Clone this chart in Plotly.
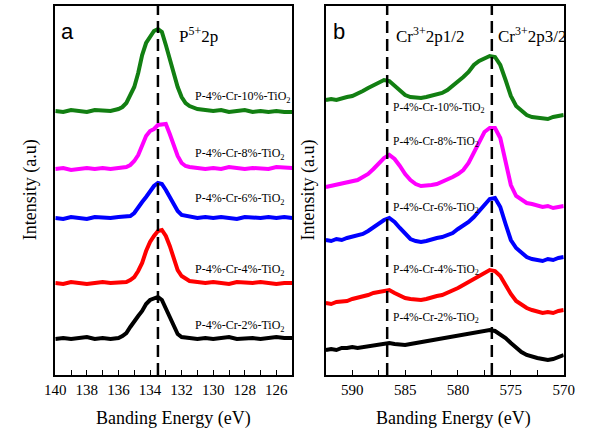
import plotly.graph_objects as go

# ---------------- Panel a: P 2p ----------------
energy_a = [140, 139.5, 139, 138.5, 138, 137.5, 137, 136.5, 136,
            135.75, 135.5, 135.25, 135, 134.75, 134.5, 134.25, 134, 133.75,
            133.5, 133.25, 133, 132.75, 132.5, 132.25, 132, 131.75, 131.5,
            131, 130.5, 130, 129.5, 129, 128.5, 128, 127.5, 127, 126.5, 126, 125.5, 125]

a_cr10 = [264, 263, 265, 264, 263, 265, 264, 264, 266,
          268, 272, 280, 288, 302, 320, 332, 339, 344, 346, 343, 330, 315, 302, 288, 278, 272, 269,
          266, 265, 264, 265, 263, 264, 265, 263, 264, 263, 264, 263, 263]
a_cr8 = [206, 207, 205, 206, 207, 206, 207, 206, 207,
         207, 208, 210, 214, 220, 229, 239, 244, 246, 250, 250, 251, 241, 230, 219, 212, 209, 208,
         207, 206, 207, 206, 208, 207, 206, 207, 207, 206, 208, 207, 207]
a_cr6 = [157, 156, 158, 157, 156, 158, 157, 157, 158,
         158, 158, 159, 162, 168, 173, 178, 184, 189, 192, 191, 185, 178, 171, 164, 160, 159, 158,
         157, 158, 157, 158, 157, 156, 158, 157, 157, 158, 157, 158, 157]
a_cr4 = [92, 91, 93, 92, 91, 92, 93, 92, 92,
         92, 93, 95, 98, 104, 112, 124, 133, 139, 144, 145, 139, 129, 118, 105, 99, 96, 94,
         93, 92, 93, 92, 91, 93, 92, 92, 93, 92, 91, 92, 92]
a_cr2 = [36, 37, 36, 37, 38, 36, 37, 36, 37,
         39, 42, 48, 54, 59, 64, 71, 75, 77, 78, 75, 66, 57, 48, 41, 38, 37, 37,
         36, 37, 36, 37, 38, 36, 37, 37, 36, 37, 38, 37, 37]

# ---------------- Panel b: Cr 2p ----------------
energy_b = [592.5, 592, 591.5, 591, 590.5, 590, 589.5, 589, 588.5, 588,
            587.5, 587, 586.5, 586, 585.5, 585, 584.5, 584, 583.5, 583,
            582.5, 582, 581.5, 581, 580.5, 580, 579.5, 579, 578.5, 578,
            577.5, 577, 576.5, 576, 575.5, 575, 574.5, 574, 573.5, 573,
            572.5, 572, 571.5, 571, 570.5, 570]

b_cr10 = [275, 276, 275, 277, 278, 279, 281, 284, 287, 290,
          292, 295, 294, 289, 284, 280, 278, 277, 277, 278,
          279, 280, 282, 285, 289, 293, 298, 303, 310, 314,
          317, 319, 318, 310, 295, 279, 269, 264, 260, 258,
          257, 257, 256, 258, 259, 260]
b_cr8 = [188, 189, 190, 191, 192, 194, 195, 198, 201, 206,
         212, 217, 220, 216, 209, 201, 195, 191, 189, 189,
         190, 191, 193, 196, 198, 201, 205, 212, 223, 233,
         243, 247, 247, 237, 213, 190, 179, 175, 172, 171,
         169, 168, 169, 167, 168, 169]
b_cr6 = [135, 134, 136, 135, 137, 138, 139, 141, 144, 148,
         152, 155, 157, 153, 147, 141, 136, 134, 133, 134,
         136, 137, 138, 140, 142, 146, 149, 153, 158, 164,
         170, 176, 177, 168, 151, 135, 127, 122, 118, 116,
         115, 114, 116, 115, 117, 118]
b_cr4 = [72, 71, 73, 73, 74, 76, 77, 79, 80, 82,
         83, 85, 85, 82, 79, 77, 76, 75, 75, 76,
         78, 79, 80, 82, 85, 87, 90, 93, 97, 100,
         103, 105, 104, 99, 90, 81, 74, 70, 67, 65,
         63, 62, 63, 62, 64, 65]
b_cr2 = [25, 26, 25, 27, 27, 28, 27, 28, 29, 30,
         31, 32, 32, 31, 30, 30, 31, 32, 33, 34,
         35, 35, 36, 37, 38, 39, 40, 41, 42, 43,
         45, 45, 44, 41, 37, 32, 27, 23, 20, 18,
         17, 16, 15, 16, 18, 20]

sample_labels = ["P-4%-Cr-10%-TiO<sub>2</sub>", "P-4%-Cr-8%-TiO<sub>2</sub>",
                 "P-4%-Cr-6%-TiO<sub>2</sub>", "P-4%-Cr-4%-TiO<sub>2</sub>",
                 "P-4%-Cr-2%-TiO<sub>2</sub>"]
colors = ["#127f12", "#ff00ff", "#0000ff", "#ff0000", "#000000"]
label_y_a = [278, 221, 176, 105, 49]
label_y_b = [267, 233, 167, 105, 57]
peak_a = [133.5]
peaks_b = [586.7, 576.8]
xticks_a = [140, 138, 136, 134, 132, 130, 128, 126]
xticks_b = [590, 585, 580, 575, 570]

SERIF = "Liberation Serif, Times New Roman, serif"
SANS = "Liberation Sans, Arial, sans-serif"

fig = go.Figure()
for vals, col in zip([a_cr10, a_cr8, a_cr6, a_cr4, a_cr2], colors):
    fig.add_trace(go.Scatter(x=energy_a, y=vals, mode="lines", xaxis="x", yaxis="y",
                             line=dict(color=col, width=4), hoverinfo="skip"))
for vals, col in zip([b_cr10, b_cr8, b_cr6, b_cr4, b_cr2], colors):
    fig.add_trace(go.Scatter(x=energy_b, y=vals, mode="lines", xaxis="x2", yaxis="y2",
                             line=dict(color=col, width=4), hoverinfo="skip"))

W, H = 593, 432
ytop, ybot = 1 - 6 / H, 1 - 375 / H

axis_common = dict(showline=True, linecolor="black", linewidth=1.5, mirror=True,
                   showgrid=False, zeroline=False)

fig.update_layout(
    width=W, height=H, margin=dict(l=0, r=0, t=0, b=0),
    paper_bgcolor="white", plot_bgcolor="white", showlegend=False,
    xaxis=dict(domain=[46 / W, 292 / W], anchor="y", range=[140, 125],
               tickvals=xticks_a, ticks="inside", ticklen=5, tickwidth=1.3, tickcolor="black",
               minor=dict(dtick=1, tick0=0, ticks="inside", ticklen=5, tickwidth=1.3, tickcolor="black"),
               tickfont=dict(family=SERIF, size=15, color="black"), **axis_common),
    yaxis=dict(domain=[ybot, ytop], anchor="x", range=[0, 369], showticklabels=False,
               ticks="", **axis_common),
    xaxis2=dict(domain=[327 / W, 574 / W], anchor="y2", range=[592.5, 570],
                tickvals=xticks_b, ticks="inside", ticklen=5, tickwidth=1.3, tickcolor="black",
                minor=dict(dtick=2.5, tick0=0, ticks="inside", ticklen=5, tickwidth=1.3, tickcolor="black"),
                tickfont=dict(family=SERIF, size=15, color="black"), **axis_common),
    yaxis2=dict(domain=[ybot, ytop], anchor="x2", range=[0, 369], showticklabels=False,
                ticks="", **axis_common),
)

shapes = []
for p in peak_a:
    shapes.append(dict(type="line", xref="x", yref="y domain", x0=p, x1=p, y0=0, y1=1,
                       line=dict(color="black", width=2.5, dash="12px,6px")))
for p in peaks_b:
    shapes.append(dict(type="line", xref="x2", yref="y2 domain", x0=p, x1=p, y0=0, y1=1,
                       line=dict(color="black", width=2.5, dash="12px,6px")))
fig.update_layout(shapes=shapes)

ann = []
for lab, yv in zip(sample_labels, label_y_a):
    ann.append(dict(x=131.3, y=yv, xref="x", yref="y", text=lab, showarrow=False,
                    xanchor="left", yanchor="middle",
                    font=dict(family=SERIF, size=12, color="black")))
for lab, yv in zip(sample_labels, label_y_b):
    ann.append(dict(x=586.3, y=yv, xref="x2", yref="y2", text=lab, showarrow=False,
                    xanchor="left", yanchor="middle",
                    font=dict(family=SERIF, size=11.5, color="black")))

# peak labels
ann.append(dict(x=172 / W, y=1 - 35 / H, xref="paper", yref="paper", text="P<sup>5+</sup>2p",
                showarrow=False, xanchor="left", yanchor="middle",
                font=dict(family=SERIF, size=17, color="black")))
ann.append(dict(x=398 / W, y=1 - 35 / H, xref="paper", yref="paper", text="Cr<sup>3+</sup>2p1/2",
                showarrow=False, xanchor="left", yanchor="middle",
                font=dict(family=SERIF, size=17, color="black")))
ann.append(dict(x=504 / W, y=1 - 35 / H, xref="paper", yref="paper", text="Cr<sup>3+</sup>2p3/2",
                showarrow=False, xanchor="left", yanchor="middle",
                font=dict(family=SERIF, size=17, color="black")))
# panel letters
ann.append(dict(x=50 / W, y=1 - 31 / H, xref="paper", yref="paper", text="a", showarrow=False,
                xanchor="left", yanchor="middle", font=dict(family=SANS, size=22, color="black")))
ann.append(dict(x=332 / W, y=1 - 31 / H, xref="paper", yref="paper", text="b", showarrow=False,
                xanchor="left", yanchor="middle", font=dict(family=SANS, size=22, color="black")))
# axis titles
for xc in [169, 460]:
    ann.append(dict(x=xc / W, y=1 - 418 / H, xref="paper", yref="paper",
                    text="Banding Energy (eV)", showarrow=False, xanchor="center", yanchor="middle",
                    font=dict(family=SERIF, size=18, color="black")))
for xc in [20, 308]:
    ann.append(dict(x=xc / W, y=1 - 190 / H, xref="paper", yref="paper",
                    text="Intensity (a.u)", showarrow=False, textangle=-90,
                    xanchor="center", yanchor="middle",
                    font=dict(family=SERIF, size=18, color="black")))
fig.update_layout(annotations=ann)

fig.write_html(
    "out.html",
    config={"displayModeBar": False},
    post_script=("document.body.style.margin='0px';"
                 "document.body.style.overflow='hidden';"
                 "document.documentElement.style.overflow='hidden';"),
)
